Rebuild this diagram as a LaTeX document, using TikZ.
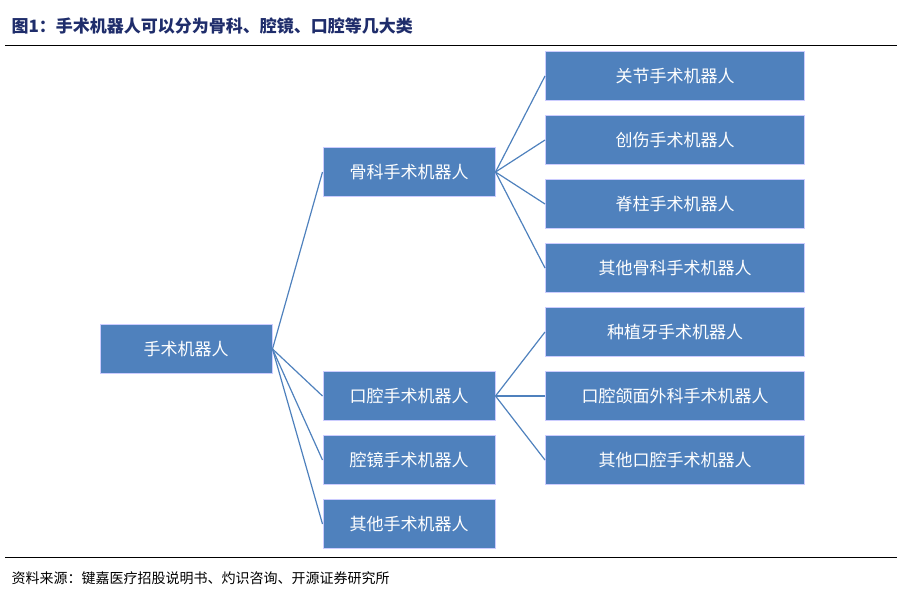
\documentclass[tikz,border=0pt]{standalone}
\usepackage{fontspec}
\setmainfont{Noto Sans CJK SC}
\begin{document}
\begin{tikzpicture}[x=1pt,y=-1pt,
 bx/.style={draw=white!80!blue,line width=1pt,fill=boxblue,text=white,minimum height=49pt,inner sep=0pt,font=\fontsize{17}{20}\selectfont},
 cn/.style={draw=boxblue,line width=1.2pt}]
\definecolor{boxblue}{HTML}{4F81BD}
\definecolor{titleblue}{HTML}{1F2D6B}
\useasboundingbox (0,0) rectangle (920,603);
\node[anchor=west,text=titleblue,font=\fontsize{17}{20}\selectfont\bfseries] (t) at (8,26) {图1：手术机器人可以分为骨科、腔镜、口腔等几大类};
\draw[line width=1pt] (5,45) -- (897,45);
\draw[line width=1pt] (5,557) -- (897,557);
\node[anchor=west,font=\fontsize{14}{16}\selectfont] (s) at (8,578) {资料来源：键嘉医疗招股说明书、灼识咨询、开源证券研究所};
\node[bx,minimum width=172pt] (r) at (186,349) {手术机器人};
\node[bx,minimum width=172pt] (a) at (409,172) {骨科手术机器人};
\node[bx,minimum width=172pt] (b) at (409,396) {口腔手术机器人};
\node[bx,minimum width=172pt] (c) at (409,460) {腔镜手术机器人};
\node[bx,minimum width=172pt] (d) at (409,524) {其他手术机器人};
\node[bx,minimum width=259pt] (a1) at (675,76) {关节手术机器人};
\node[bx,minimum width=259pt] (a2) at (675,140) {创伤手术机器人};
\node[bx,minimum width=259pt] (a3) at (675,204) {脊柱手术机器人};
\node[bx,minimum width=259pt] (a4) at (675,268) {其他骨科手术机器人};
\node[bx,minimum width=259pt] (b1) at (675,332) {种植牙手术机器人};
\node[bx,minimum width=259pt] (b2) at (675,396) {口腔颌面外科手术机器人};
\node[bx,minimum width=259pt] (b3) at (675,460) {其他口腔手术机器人};
\foreach \n in {a,b,c,d} \draw[cn] (r.east) -- (\n.west);
\foreach \n in {a1,a2,a3,a4} \draw[cn] (a.east) -- (\n.west);
\foreach \n in {b1,b2,b3} \draw[cn] (b.east) -- (\n.west);
\end{tikzpicture}
\end{document}
